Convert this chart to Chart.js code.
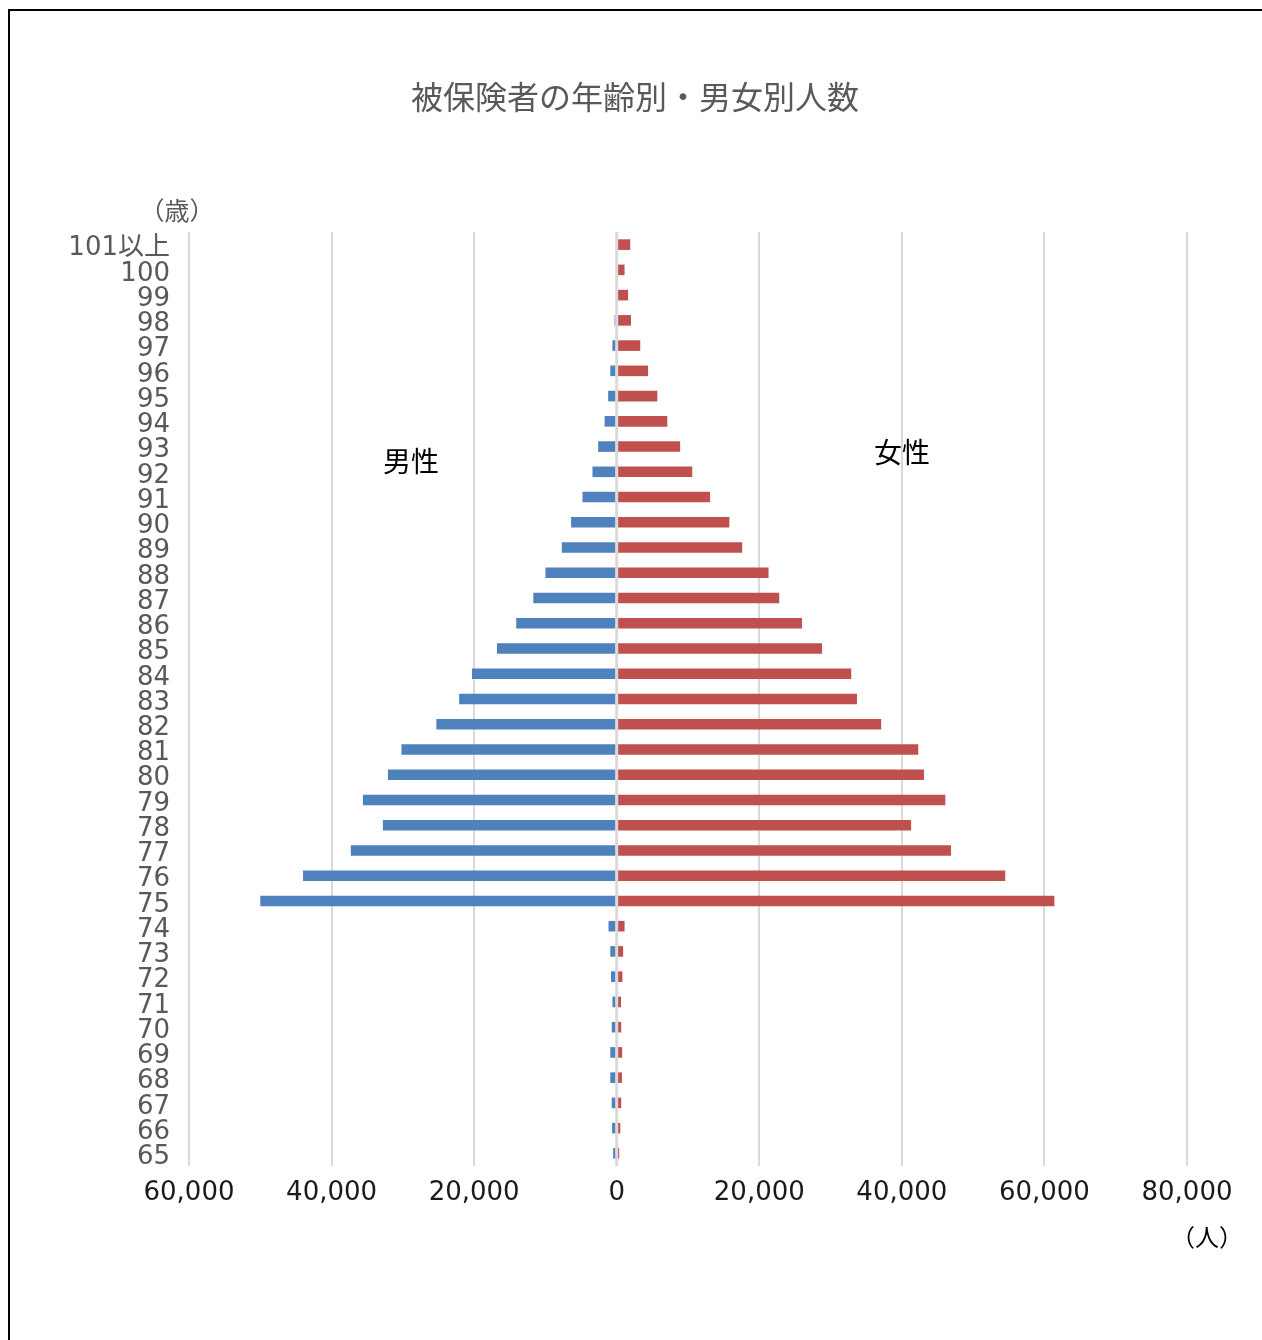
<!DOCTYPE html>
<html>
<head>
<meta charset="utf-8">
<script src="https://cdn.jsdelivr.net/npm/chart.js@4.4.1/dist/chart.umd.min.js"></script>
<style>
  html, body { margin: 0; padding: 0; background: #fff; }
  #wrap { position: absolute; left: 0; top: 0; width: 1262px; height: 1340px; }
</style>
</head>
<body>
<div id="wrap"><canvas id="pyramid" width="1262" height="1340"></canvas></div>
<script>
// 年齢区分（上から）
const ages = ['101以上', '100', '99', '98', '97', '96', '95', '94', '93', '92', '91', '90',
  '89', '88', '87', '86', '85', '84', '83', '82', '81', '80', '79', '78', '77', '76', '75',
  '74', '73', '72', '71', '70', '69', '68', '67', '66', '65'];

// 男性（人）
const male = [0, 0, 0, 300, 600, 900, 1200, 1700, 2600, 3400, 4800, 6400,
  7700, 10000, 11700, 14100, 16800, 20300, 22100, 25300, 30200, 32100, 35600, 32800, 37300, 44000, 50000,
  1150, 900, 800, 600, 700, 900, 900, 700, 650, 500];

// 女性（人）
const female = [1900, 1100, 1600, 2000, 3300, 4400, 5700, 7100, 8900, 10600, 13100, 15800,
  17600, 21300, 22800, 26000, 28800, 32900, 33700, 37100, 42300, 43100, 46100, 41300, 46900, 54500, 61400,
  1100, 900, 800, 600, 630, 770, 730, 630, 500, 350];

const xTicks = [-60000, -40000, -20000, 0, 20000, 40000, 60000, 80000];

const FONT = '"DejaVu Sans", "Noto Sans CJK JP", sans-serif';
const JP = '"Noto Sans CJK JP", sans-serif';

// frame, labels and the zero line drawn on top
const extras = {
  id: 'extras',
  beforeDraw(chart) {
    const c = chart.ctx;
    c.save();
    c.strokeStyle = '#000';
    c.lineWidth = 2;
    c.beginPath();
    c.moveTo(9, 1340);
    c.lineTo(9, 10);
    c.lineTo(1262, 10);
    c.stroke();
    c.restore();
  },
  afterDatasetsDraw(chart) {
    const c = chart.ctx;
    const x0 = chart.scales.x.getPixelForValue(0);
    const a = chart.chartArea;
    c.save();
    c.strokeStyle = '#d9d9d9';
    c.lineWidth = 3;
    c.beginPath();
    c.moveTo(x0, a.top);
    c.lineTo(x0, a.bottom);
    c.stroke();

    c.textBaseline = 'middle';
    c.textAlign = 'center';
    c.fillStyle = '#595959';
    c.font = '32px ' + JP;
    c.fillText('被保険者の年齢別・男女別人数', 635, 97);
    c.font = '25px ' + JP;
    c.fillText('（歳）', 177, 210);
    c.fillStyle = '#000';
    c.font = '28px ' + JP;
    c.fillText('男性', 411, 461);
    c.fillText('女性', 902, 452);
    c.font = '24px ' + JP;
    c.fillText('（人）', 1207, 1237);
    c.restore();
  }
};

new Chart(document.getElementById('pyramid'), {
  type: 'bar',
  data: {
    labels: ages,
    datasets: [
      {
        label: '男性',
        data: male.map(v => -v),
        backgroundColor: '#4f81bd',
        barPercentage: 0.42,
        categoryPercentage: 1
      },
      {
        label: '女性',
        data: female,
        backgroundColor: '#c0504d',
        barPercentage: 0.42,
        categoryPercentage: 1
      }
    ]
  },
  options: {
    indexAxis: 'y',
    responsive: false,
    animation: false,
    layout: { padding: { left: 0, right: 75, top: 232, bottom: 114 } },
    plugins: {
      legend: { display: false },
      title: { display: false },
      tooltip: { enabled: false }
    },
    scales: {
      x: {
        stacked: true,
        min: -60000,
        max: 80000,
        afterBuildTicks(scale) {
          scale.ticks = xTicks.map(v => ({ value: v }));
        },
        afterFit(scale) { scale.height = 60; },
        border: { display: false },
        grid: {
          color: '#d9d9d9',
          lineWidth: 2,
          drawTicks: false
        },
        ticks: {
          padding: 12,
          color: '#1a1a1a',
          font: { family: FONT, size: 26 },
          maxRotation: 0,
          callback: v => Math.abs(v).toLocaleString('en-US')
        }
      },
      y: {
        stacked: true,
        afterFit(scale) { scale.width = 189; },
        border: { display: false },
        grid: { display: false, drawTicks: false },
        ticks: {
          autoSkip: false,
          padding: 19,
          labelOffset: 4,
          color: '#595959',
          font: { family: FONT, size: 26 }
        }
      }
    }
  },
  plugins: [extras]
});
</script>
</body>
</html>
